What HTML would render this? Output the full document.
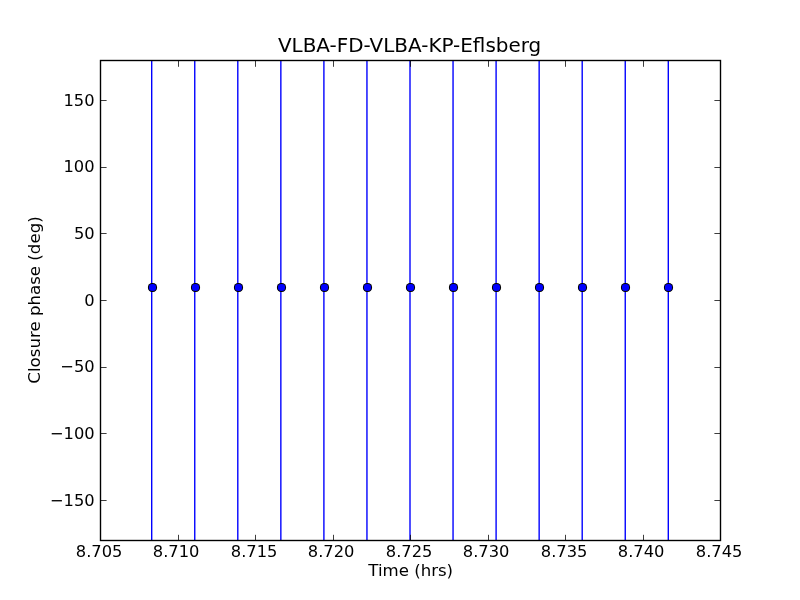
<!DOCTYPE html>
<html><head><meta charset="utf-8"><title>VLBA-FD-VLBA-KP-Eflsberg</title>
<style>html,body{margin:0;padding:0;background:#fff;overflow:hidden}svg{display:block}text{font-family:"DejaVu Sans","Liberation Sans",sans-serif;fill:#000}</style></head>
<body>
<svg width="800" height="600" viewBox="0 0 800 600">
<rect width="800" height="600" fill="#fff"/>
<g stroke="#0000ff" stroke-width="1.39" fill="none">
<line x1="151.70" y1="60.5" x2="151.70" y2="540.5"/>
<line x1="194.75" y1="60.5" x2="194.75" y2="540.5"/>
<line x1="237.80" y1="60.5" x2="237.80" y2="540.5"/>
<line x1="280.85" y1="60.5" x2="280.85" y2="540.5"/>
<line x1="323.90" y1="60.5" x2="323.90" y2="540.5"/>
<line x1="366.95" y1="60.5" x2="366.95" y2="540.5"/>
<line x1="410.00" y1="60.5" x2="410.00" y2="540.5"/>
<line x1="453.05" y1="60.5" x2="453.05" y2="540.5"/>
<line x1="496.10" y1="60.5" x2="496.10" y2="540.5"/>
<line x1="539.15" y1="60.5" x2="539.15" y2="540.5"/>
<line x1="582.20" y1="60.5" x2="582.20" y2="540.5"/>
<line x1="625.25" y1="60.5" x2="625.25" y2="540.5"/>
<line x1="668.30" y1="60.5" x2="668.30" y2="540.5"/>
</g>
<g>
<rect x="147.95" y="282.95" width="9.1" height="9.1" rx="4.15" fill="#000"/><rect x="148.95" y="283.95" width="7.1" height="7.1" rx="3.3" fill="#0000ff"/>
<rect x="190.95" y="282.95" width="9.1" height="9.1" rx="4.15" fill="#000"/><rect x="191.95" y="283.95" width="7.1" height="7.1" rx="3.3" fill="#0000ff"/>
<rect x="233.95" y="282.95" width="9.1" height="9.1" rx="4.15" fill="#000"/><rect x="234.95" y="283.95" width="7.1" height="7.1" rx="3.3" fill="#0000ff"/>
<rect x="276.95" y="282.95" width="9.1" height="9.1" rx="4.15" fill="#000"/><rect x="277.95" y="283.95" width="7.1" height="7.1" rx="3.3" fill="#0000ff"/>
<rect x="319.95" y="282.95" width="9.1" height="9.1" rx="4.15" fill="#000"/><rect x="320.95" y="283.95" width="7.1" height="7.1" rx="3.3" fill="#0000ff"/>
<rect x="362.95" y="282.95" width="9.1" height="9.1" rx="4.15" fill="#000"/><rect x="363.95" y="283.95" width="7.1" height="7.1" rx="3.3" fill="#0000ff"/>
<rect x="405.95" y="282.95" width="9.1" height="9.1" rx="4.15" fill="#000"/><rect x="406.95" y="283.95" width="7.1" height="7.1" rx="3.3" fill="#0000ff"/>
<rect x="448.95" y="282.95" width="9.1" height="9.1" rx="4.15" fill="#000"/><rect x="449.95" y="283.95" width="7.1" height="7.1" rx="3.3" fill="#0000ff"/>
<rect x="491.95" y="282.95" width="9.1" height="9.1" rx="4.15" fill="#000"/><rect x="492.95" y="283.95" width="7.1" height="7.1" rx="3.3" fill="#0000ff"/>
<rect x="534.95" y="282.95" width="9.1" height="9.1" rx="4.15" fill="#000"/><rect x="535.95" y="283.95" width="7.1" height="7.1" rx="3.3" fill="#0000ff"/>
<rect x="577.95" y="282.95" width="9.1" height="9.1" rx="4.15" fill="#000"/><rect x="578.95" y="283.95" width="7.1" height="7.1" rx="3.3" fill="#0000ff"/>
<rect x="620.95" y="282.95" width="9.1" height="9.1" rx="4.15" fill="#000"/><rect x="621.95" y="283.95" width="7.1" height="7.1" rx="3.3" fill="#0000ff"/>
<rect x="663.95" y="282.95" width="9.1" height="9.1" rx="4.15" fill="#000"/><rect x="664.95" y="283.95" width="7.1" height="7.1" rx="3.3" fill="#0000ff"/>
</g>
<rect x="100.5" y="60.5" width="620.0" height="480.0" fill="none" stroke="#000" stroke-width="1.39"/>
<g stroke="#000" stroke-width="0.76">
<line x1="100.5" y1="540.5" x2="100.5" y2="534.8"/><line x1="100.5" y1="60.5" x2="100.5" y2="66.8"/>
<line x1="178.5" y1="540.5" x2="178.5" y2="534.8"/><line x1="178.5" y1="60.5" x2="178.5" y2="66.8"/>
<line x1="255.5" y1="540.5" x2="255.5" y2="534.8"/><line x1="255.5" y1="60.5" x2="255.5" y2="66.8"/>
<line x1="333.5" y1="540.5" x2="333.5" y2="534.8"/><line x1="333.5" y1="60.5" x2="333.5" y2="66.8"/>
<line x1="410.5" y1="540.5" x2="410.5" y2="534.8"/><line x1="410.5" y1="60.5" x2="410.5" y2="66.8"/>
<line x1="488.5" y1="540.5" x2="488.5" y2="534.8"/><line x1="488.5" y1="60.5" x2="488.5" y2="66.8"/>
<line x1="565.5" y1="540.5" x2="565.5" y2="534.8"/><line x1="565.5" y1="60.5" x2="565.5" y2="66.8"/>
<line x1="643.5" y1="540.5" x2="643.5" y2="534.8"/><line x1="643.5" y1="60.5" x2="643.5" y2="66.8"/>
<line x1="720.5" y1="540.5" x2="720.5" y2="534.8"/><line x1="720.5" y1="60.5" x2="720.5" y2="66.8"/>
<line x1="100.5" y1="100.5" x2="106.6" y2="100.5"/><line x1="720.5" y1="100.5" x2="714.4" y2="100.5"/>
<line x1="100.5" y1="167.5" x2="106.6" y2="167.5"/><line x1="720.5" y1="167.5" x2="714.4" y2="167.5"/>
<line x1="100.5" y1="233.5" x2="106.6" y2="233.5"/><line x1="720.5" y1="233.5" x2="714.4" y2="233.5"/>
<line x1="100.5" y1="300.5" x2="106.6" y2="300.5"/><line x1="720.5" y1="300.5" x2="714.4" y2="300.5"/>
<line x1="100.5" y1="367.5" x2="106.6" y2="367.5"/><line x1="720.5" y1="367.5" x2="714.4" y2="367.5"/>
<line x1="100.5" y1="433.5" x2="106.6" y2="433.5"/><line x1="720.5" y1="433.5" x2="714.4" y2="433.5"/>
<line x1="100.5" y1="500.5" x2="106.6" y2="500.5"/><line x1="720.5" y1="500.5" x2="714.4" y2="500.5"/>
</g>
<g font-size="16.3px" text-anchor="middle">
<text x="99.1" y="556.6">8.705</text>
<text x="176.1" y="556.6">8.710</text>
<text x="254.1" y="556.6">8.715</text>
<text x="331.1" y="556.6">8.720</text>
<text x="409.1" y="556.6">8.725</text>
<text x="486.1" y="556.6">8.730</text>
<text x="564.1" y="556.6">8.735</text>
<text x="641.1" y="556.6">8.740</text>
<text x="719.1" y="556.6">8.745</text>
</g>
<g font-size="16.3px" text-anchor="end">
<text x="94.6" y="106">150</text>
<text x="94.6" y="172">100</text>
<text x="94.6" y="239">50</text>
<text x="94.6" y="306">0</text>
<text x="94.6" y="372">−50</text>
<text x="94.6" y="439">−100</text>
<text x="94.6" y="506">−150</text>
</g>
<text x="409.6" y="52" font-size="19.95px" text-anchor="middle">VLBA-FD-VLBA-KP-Eflsberg</text>
<text x="410.7" y="576" font-size="16.6px" text-anchor="middle">Time (hrs)</text>
<text transform="translate(40.2,300.0) rotate(-90)" font-size="16.64px" text-anchor="middle">Closure phase (deg)</text>
</svg>
</body></html>
